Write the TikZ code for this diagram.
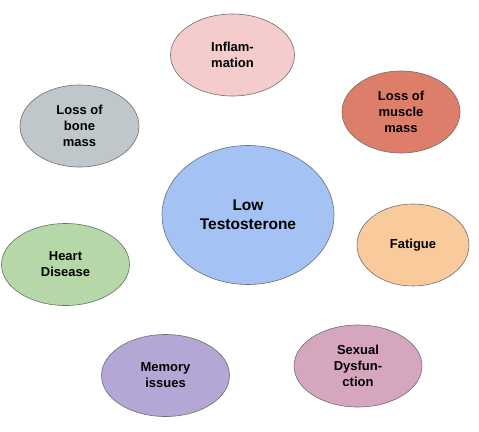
\documentclass[tikz,border=0pt]{standalone}
\usepackage{fontspec}
\setmainfont{Liberation Sans}
\usepackage{tikz}
\usetikzlibrary{shapes.geometric}
\definecolor{lowT}{RGB}{164,194,244}
\definecolor{infl}{RGB}{244,204,204}
\definecolor{musc}{RGB}{221,126,107}
\definecolor{bone}{RGB}{192,199,203}
\definecolor{fatg}{RGB}{249,203,156}
\definecolor{hart}{RGB}{182,215,168}
\definecolor{memo}{RGB}{180,167,214}
\definecolor{sexd}{RGB}{213,166,189}
\definecolor{rim}{RGB}{110,110,110}

\begin{document}
\begin{tikzpicture}[x=1pt,y=-1pt,
  bub/.style={ellipse,draw=rim,line width=0.6pt,inner sep=0pt,align=center,
              font=\fontsize{13}{16}\selectfont\bfseries,
              minimum width=124pt,minimum height=82pt},
  hub/.style={bub,font=\fontsize{15.5}{19}\selectfont\bfseries,
              minimum width=172pt,minimum height=139pt}]
 \useasboundingbox (0,0) rectangle (479,431);
 \node[hub,fill=lowT] (lowt) at (248,215) {Low\\ Testosterone};
 \node[bub,fill=infl] (infl) at (232.5,55) {Inflam-\\ mation};
 \node[bub,fill=musc,minimum width=118pt] (musc) at (401,112) {Loss of\\ muscle\\ mass};
 \node[bub,fill=bone,minimum width=119pt] (bone) at (79.5,126) {Loss of\\ bone\\ mass};
 \node[bub,fill=fatg,minimum width=112pt] (fatg) at (413,245) {Fatigue};
 \node[bub,fill=hart,minimum width=128pt] (hart) at (65.5,264.5) {Heart\\ Disease};
 \node[bub,fill=memo,minimum width=128pt] (memo) at (165.5,375.5) {Memory\\ issues};
 \node[bub,fill=sexd,minimum width=128pt] (sexd) at (358,366) {Sexual\\ Dysfun-\\ ction};
\end{tikzpicture}
\end{document}
